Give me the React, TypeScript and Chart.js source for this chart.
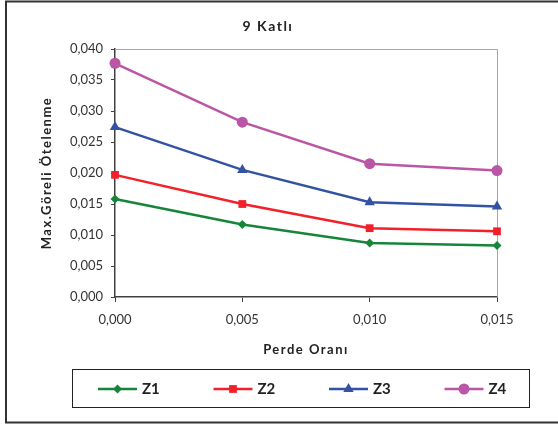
import React, { useEffect, useRef } from 'react';
import { Chart, registerables } from 'chart.js';

Chart.register(...registerables);

const chartTitle = '9 Katlı';
const xTitle = 'Perde Oranı';
const yTitle = 'Max.Göreli Ötelenme';
const xLabels = ['0,000', '0,005', '0,010', '0,015'];
const seriesNames = ['Z1', 'Z2', 'Z3', 'Z4'];
const z1 = [0.0158, 0.0117, 0.0087, 0.0083];
const z2 = [0.0197, 0.015, 0.0111, 0.0106];
const z3 = [0.0274, 0.0205, 0.0153, 0.0146];
const z4 = [0.0377, 0.0282, 0.0215, 0.0204];
const seriesColors = ['#168539', '#F2202A', '#3352A3', '#BB55A6'];
const seriesMarkers = ['rectRot', 'rect', 'triangle', 'circle'];
const markerRadius = [4.5, 5.5, 6, 5.5];
const yMin = 0;
const yMax = 0.04;
const yStep = 0.005;

const FONT = 'Lato, "Open Sans", sans-serif';

function drawMarker(ctx: CanvasRenderingContext2D, style: string, x: number, y: number, r: number) {
  ctx.beginPath();
  if (style === 'circle') {
    ctx.arc(x, y, r, 0, Math.PI * 2);
  } else if (style === 'rect') {
    const s = r * Math.SQRT1_2;
    ctx.rect(x - s, y - s, 2 * s, 2 * s);
  } else if (style === 'rectRot') {
    ctx.moveTo(x, y - r);
    ctx.lineTo(x + r, y);
    ctx.lineTo(x, y + r);
    ctx.lineTo(x - r, y);
    ctx.closePath();
  } else if (style === 'triangle') {
    ctx.moveTo(x, y - r);
    ctx.lineTo(x + r * 0.866, y + r * 0.5);
    ctx.lineTo(x - r * 0.866, y + r * 0.5);
    ctx.closePath();
  }
  ctx.fill();
}

const decorPlugin = {
  id: 'decor',
  beforeDraw(chart: any) {
    const ctx = chart.ctx as any;
    ctx.letterSpacing = '1.5px';
  },
  beforeDatasetsDraw(chart: any) {
    const ctx = chart.ctx as any;
    ctx.letterSpacing = '0px';
    const { left, right, top, bottom } = chart.chartArea;
    ctx.save();
    ctx.strokeStyle = '#A6A6A6';
    ctx.lineWidth = 1;
    ctx.beginPath();
    ctx.moveTo(left, top + 0.5);
    ctx.lineTo(right + 0.5, top + 0.5);
    ctx.lineTo(right + 0.5, bottom);
    ctx.stroke();
    ctx.restore();
  },
  afterDraw(chart: any) {
    const ctx = chart.ctx as any;
    ctx.save();
    // chart title
    ctx.letterSpacing = '1.5px';
    ctx.fillStyle = '#222222';
    ctx.font = `bold 14px ${FONT}`;
    ctx.textAlign = 'center';
    ctx.textBaseline = 'middle';
    ctx.fillText(chartTitle, 268, 26.5);
    ctx.letterSpacing = '0px';
    // outer frame
    ctx.strokeStyle = '#333333';
    ctx.lineWidth = 2;
    ctx.strokeRect(6, 1.5, 560, 421);
    // legend box
    ctx.strokeStyle = '#222222';
    ctx.lineWidth = 1;
    ctx.strokeRect(72.5, 369.5, 457, 38);
    const cy = 389;
    chart.data.datasets.forEach((ds: any, i: number) => {
      const x0 = 98 + i * 115.5;
      ctx.strokeStyle = ds.borderColor;
      ctx.fillStyle = ds.borderColor;
      ctx.lineWidth = 2.5;
      ctx.beginPath();
      ctx.moveTo(x0, cy);
      ctx.lineTo(x0 + 39, cy);
      ctx.stroke();
      drawMarker(ctx, ds.pointStyle, x0 + 19.5, cy, ds.pointRadius);
      ctx.fillStyle = '#222222';
      ctx.font = `bold 15px ${FONT}`;
      ctx.textAlign = 'left';
      ctx.textBaseline = 'middle';
      ctx.fillText(ds.label, x0 + 44, cy + 0.5);
    });
    ctx.restore();
  },
};

export default function App() {
  const ref = useRef<HTMLCanvasElement | null>(null);
  useEffect(() => {
    document.body.style.margin = '0';
    const seriesData = [z1, z2, z3, z4];
    const chart = new Chart(ref.current as HTMLCanvasElement, {
      type: 'line',
      data: {
        labels: xLabels,
        datasets: seriesData.map((d, i) => ({
          label: seriesNames[i],
          data: d,
          borderColor: seriesColors[i],
          backgroundColor: seriesColors[i],
          pointBackgroundColor: seriesColors[i],
          pointBorderColor: seriesColors[i],
          pointBorderWidth: 0,
          pointStyle: seriesMarkers[i] as any,
          pointRadius: markerRadius[i],
          borderWidth: 2.5,
          tension: 0,
          clip: false as any,
        })),
      },
      options: {
        animation: false,
        responsive: false,
        layout: { padding: { left: 0, right: 61, top: 49, bottom: 59 } },
        plugins: {
          legend: { display: false },
          tooltip: { enabled: false },
          title: { display: false },
        },
        scales: {
          x: {
            type: 'category',
            offset: false,
            grid: { drawOnChartArea: false, drawTicks: true, tickLength: 5, color: '#404040', lineWidth: 1 },
            border: { color: '#404040', width: 1.5 },
            ticks: { color: '#333333', font: { family: FONT, size: 13 }, padding: 10, maxRotation: 0, z: 1 },
            title: {
              display: true,
              text: xTitle,
              color: '#222222',
              font: { family: FONT, size: 13, weight: 'bold' },
              padding: { top: 0, bottom: 9.2 },
            },
            afterFit: (scale: any) => { scale.height = 70; },
          },
          y: {
            type: 'linear',
            min: yMin,
            max: yMax,
            grid: { drawOnChartArea: false, drawTicks: true, tickLength: 4, color: '#404040', lineWidth: 1 },
            border: { color: '#404040', width: 1.5 },
            ticks: {
              stepSize: yStep,
              color: '#333333',
              font: { family: FONT, size: 13 },
              padding: 8,
              z: 1,
              callback: (v: any) => Number(v).toFixed(3).replace('.', ','),
            },
            title: {
              display: true,
              text: yTitle,
              color: '#222222',
              font: { family: FONT, size: 13, weight: 'bold' },
              padding: { top: 39.2, bottom: 0 },
            },
            afterFit: (scale: any) => { scale.width = 115; },
          },
        },
      },
      plugins: [decorPlugin],
    });
    return () => chart.destroy();
  }, []);
  return (
    <div style={{ position: 'absolute', left: 0, top: 0, width: 558, height: 426 }}>
      <canvas ref={ref} width={558} height={426} />
    </div>
  );
}
